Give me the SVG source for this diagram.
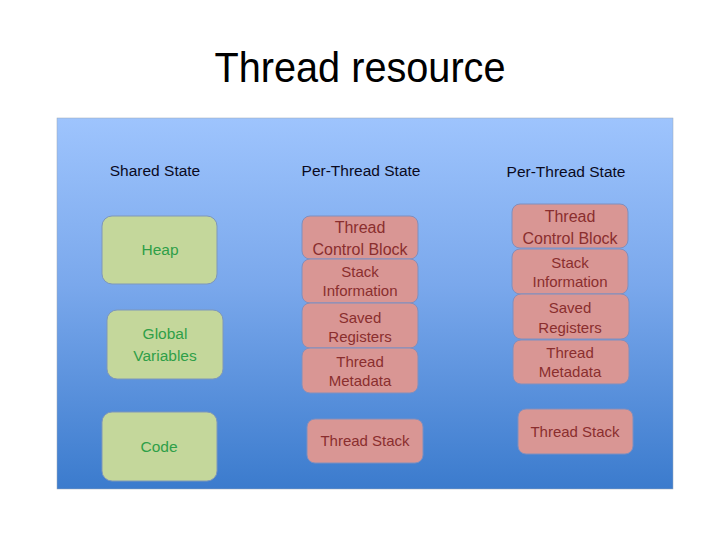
<svg xmlns="http://www.w3.org/2000/svg" width="720" height="540" viewBox="0 0 720 540">
<defs>
<linearGradient id="bg" x1="0" y1="0" x2="0" y2="1">
<stop offset="0" stop-color="#9ec4fd"/>
<stop offset="0.45" stop-color="#7aa8ec"/>
<stop offset="1" stop-color="#3b7bcd"/>
</linearGradient>
</defs>
<style>
text{font-family:"Liberation Sans",Arial,sans-serif;text-anchor:middle}
.title{font-size:42px;fill:#000}
.hdr{font-size:15.5px;fill:#0a0a1e}
.g rect{fill:#c4d79b;stroke:#7f97b9;stroke-width:1}
.g text{fill:#2f9f48;font-size:15.5px}
.r rect{fill:#d99694;stroke:#7f8fbf;stroke-width:1}
.r text{fill:#8a2e2e;font-size:16px}
.r text.s{font-size:15px}
</style>
<rect x="0" y="0" width="720" height="540" fill="#ffffff"/>
<text class="title" x="360" y="82" textLength="291" lengthAdjust="spacingAndGlyphs">Thread resource</text>
<rect x="57" y="118" width="616" height="371" fill="url(#bg)" stroke="#9aa8b8" stroke-width="0.5"/>
<text class="hdr" x="155" y="176">Shared State</text>
<text class="hdr" x="361" y="176">Per-Thread State</text>
<text class="hdr" x="566" y="177">Per-Thread State</text>

<g id="heap" class="g"><rect x="102" y="216" width="115" height="68" rx="10"/><text x="160" y="255">Heap</text></g>
<g id="globals" class="g"><rect x="107" y="310" width="116" height="69" rx="10"/><text x="165" y="339">Global</text><text x="165" y="361">Variables</text></g>
<g id="code" class="g"><rect x="102" y="412" width="115" height="69" rx="10"/><text x="159" y="452">Code</text></g>

<g id="tcb1" class="r"><rect x="302" y="216" width="116" height="43" rx="8"/><text x="360" y="233">Thread</text><text x="360" y="255">Control Block</text></g>
<g id="stack1" class="r"><rect x="302" y="259" width="116" height="44" rx="8"/><text class="s" x="360" y="277">Stack</text><text class="s" x="360" y="296">Information</text></g>
<g id="regs1" class="r"><rect x="302" y="303" width="116" height="45" rx="8"/><text class="s" x="360" y="323">Saved</text><text class="s" x="360" y="342">Registers</text></g>
<g id="meta1" class="r"><rect x="302" y="348" width="116" height="45" rx="8"/><text class="s" x="360" y="367">Thread</text><text class="s" x="360" y="386">Metadata</text></g>
<g id="tstack1" class="r"><rect x="307" y="419" width="116" height="44" rx="8"/><text class="s" x="365" y="446">Thread Stack</text></g>

<g id="tcb2" class="r"><rect x="512" y="204" width="116" height="44" rx="8"/><text x="570" y="222">Thread</text><text x="570" y="244">Control Block</text></g>
<g id="stack2" class="r"><rect x="512" y="249" width="116" height="45" rx="8"/><text class="s" x="570" y="268">Stack</text><text class="s" x="570" y="287">Information</text></g>
<g id="regs2" class="r"><rect x="513" y="294" width="116" height="45" rx="8"/><text class="s" x="570" y="313">Saved</text><text class="s" x="570" y="333">Registers</text></g>
<g id="meta2" class="r"><rect x="513" y="340" width="116" height="44" rx="8"/><text class="s" x="570" y="358">Thread</text><text class="s" x="570" y="377">Metadata</text></g>
<g id="tstack2" class="r"><rect x="518" y="409" width="115" height="45" rx="8"/><text class="s" x="575" y="437">Thread Stack</text></g>

<g id="connectors"></g>
</svg>
